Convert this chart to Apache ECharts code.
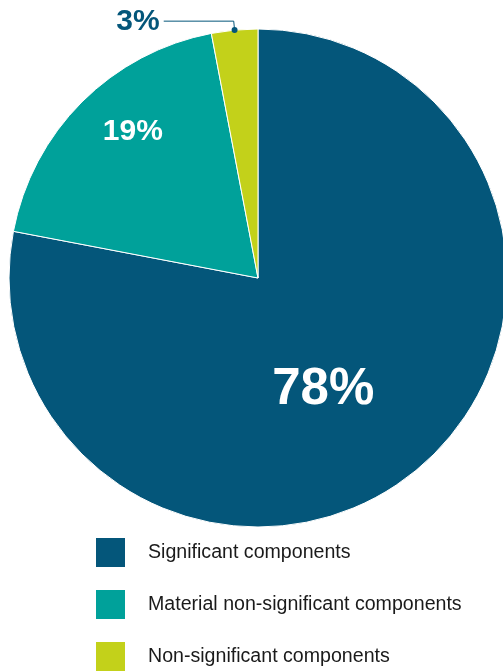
<!DOCTYPE html>
<html><head><meta charset="utf-8">
<script src="https://cdn.jsdelivr.net/npm/echarts@6/dist/echarts.min.js"></script>
<style>html,body{margin:0;padding:0;background:#fff}#c{width:503px;height:671px}</style>
</head><body><div id="c"></div>
<script>
const categories = ['Significant components', 'Material non-significant components', 'Non-significant components'];
const values = [78, 19, 3];
const colors = ['#04567a', '#00a19a', '#c3d11a'];

const FONT = 'Liberation Sans, Arial, sans-serif';
const CX = 258, CY = 278, R = 249;
const labelShift = [[-16, 14], [-35, -56], [0, 1]];

const chart = echarts.init(document.getElementById('c'), null, {renderer: 'canvas'});

const total = values.reduce((a, b) => a + b, 0);
let cum = 0;
for (let i = 0; i < values.length - 1; i++) cum += values[i];
const midAng = (cum + values[values.length - 1] / 2) / total * 2 * Math.PI;
const dotX = CX + R * Math.sin(midAng);
const dotY = CY - R * Math.cos(midAng);

chart.setOption({
  animation: false,
  color: colors,
  legend: {
    orient: 'vertical',
    left: 96, top: 538,
    height: 200,
    padding: 0,
    itemWidth: 29, itemHeight: 29, itemGap: 23,
    icon: 'rect',
    selectedMode: false,
    data: categories,
    itemStyle: {borderWidth: 0},
    textStyle: {fontFamily: FONT, fontSize: 19.6, color: '#1a1a1a', padding: [0, 0, 0, 18]}
  },
  series: [{
    type: 'pie',
    center: [CX, CY],
    radius: [0, R],
    startAngle: 90,
    clockwise: true,
    silent: true,
    itemStyle: {borderColor: '#fff', borderWidth: 1},
    labelLayout: function (p) {
      const s = labelShift[p.dataIndex];
      return {dx: s[0], dy: s[1]};
    },
    data: categories.map((c, i) => {
      const d = {name: c, value: values[i]};
      if (i === 0) d.label = {show: true, position: 'inside', formatter: '{c}%', color: '#fff', fontSize: 51, fontWeight: 'bold', fontFamily: FONT};
      else if (i === 1) d.label = {show: true, position: 'inside', formatter: '{c}%', color: '#fff', fontSize: 30, fontWeight: 'bold', fontFamily: FONT};
      else {
        d.label = {show: true, position: 'outside', formatter: '{c}%', color: '#04567a', fontSize: 30, fontWeight: 'bold', fontFamily: FONT, distanceToLabelLine: 4};
        d.labelLine = {show: true, length: 9, length2: 70, smooth: false, lineStyle: {color: '#04567a', width: 1}};
      }
      return d;
    })
  }],
  graphic: [{
    type: 'circle',
    shape: {cx: dotX, cy: dotY, r: 3},
    style: {fill: '#04567a'},
    z: 100
  }]
});
</script>
</body></html>
